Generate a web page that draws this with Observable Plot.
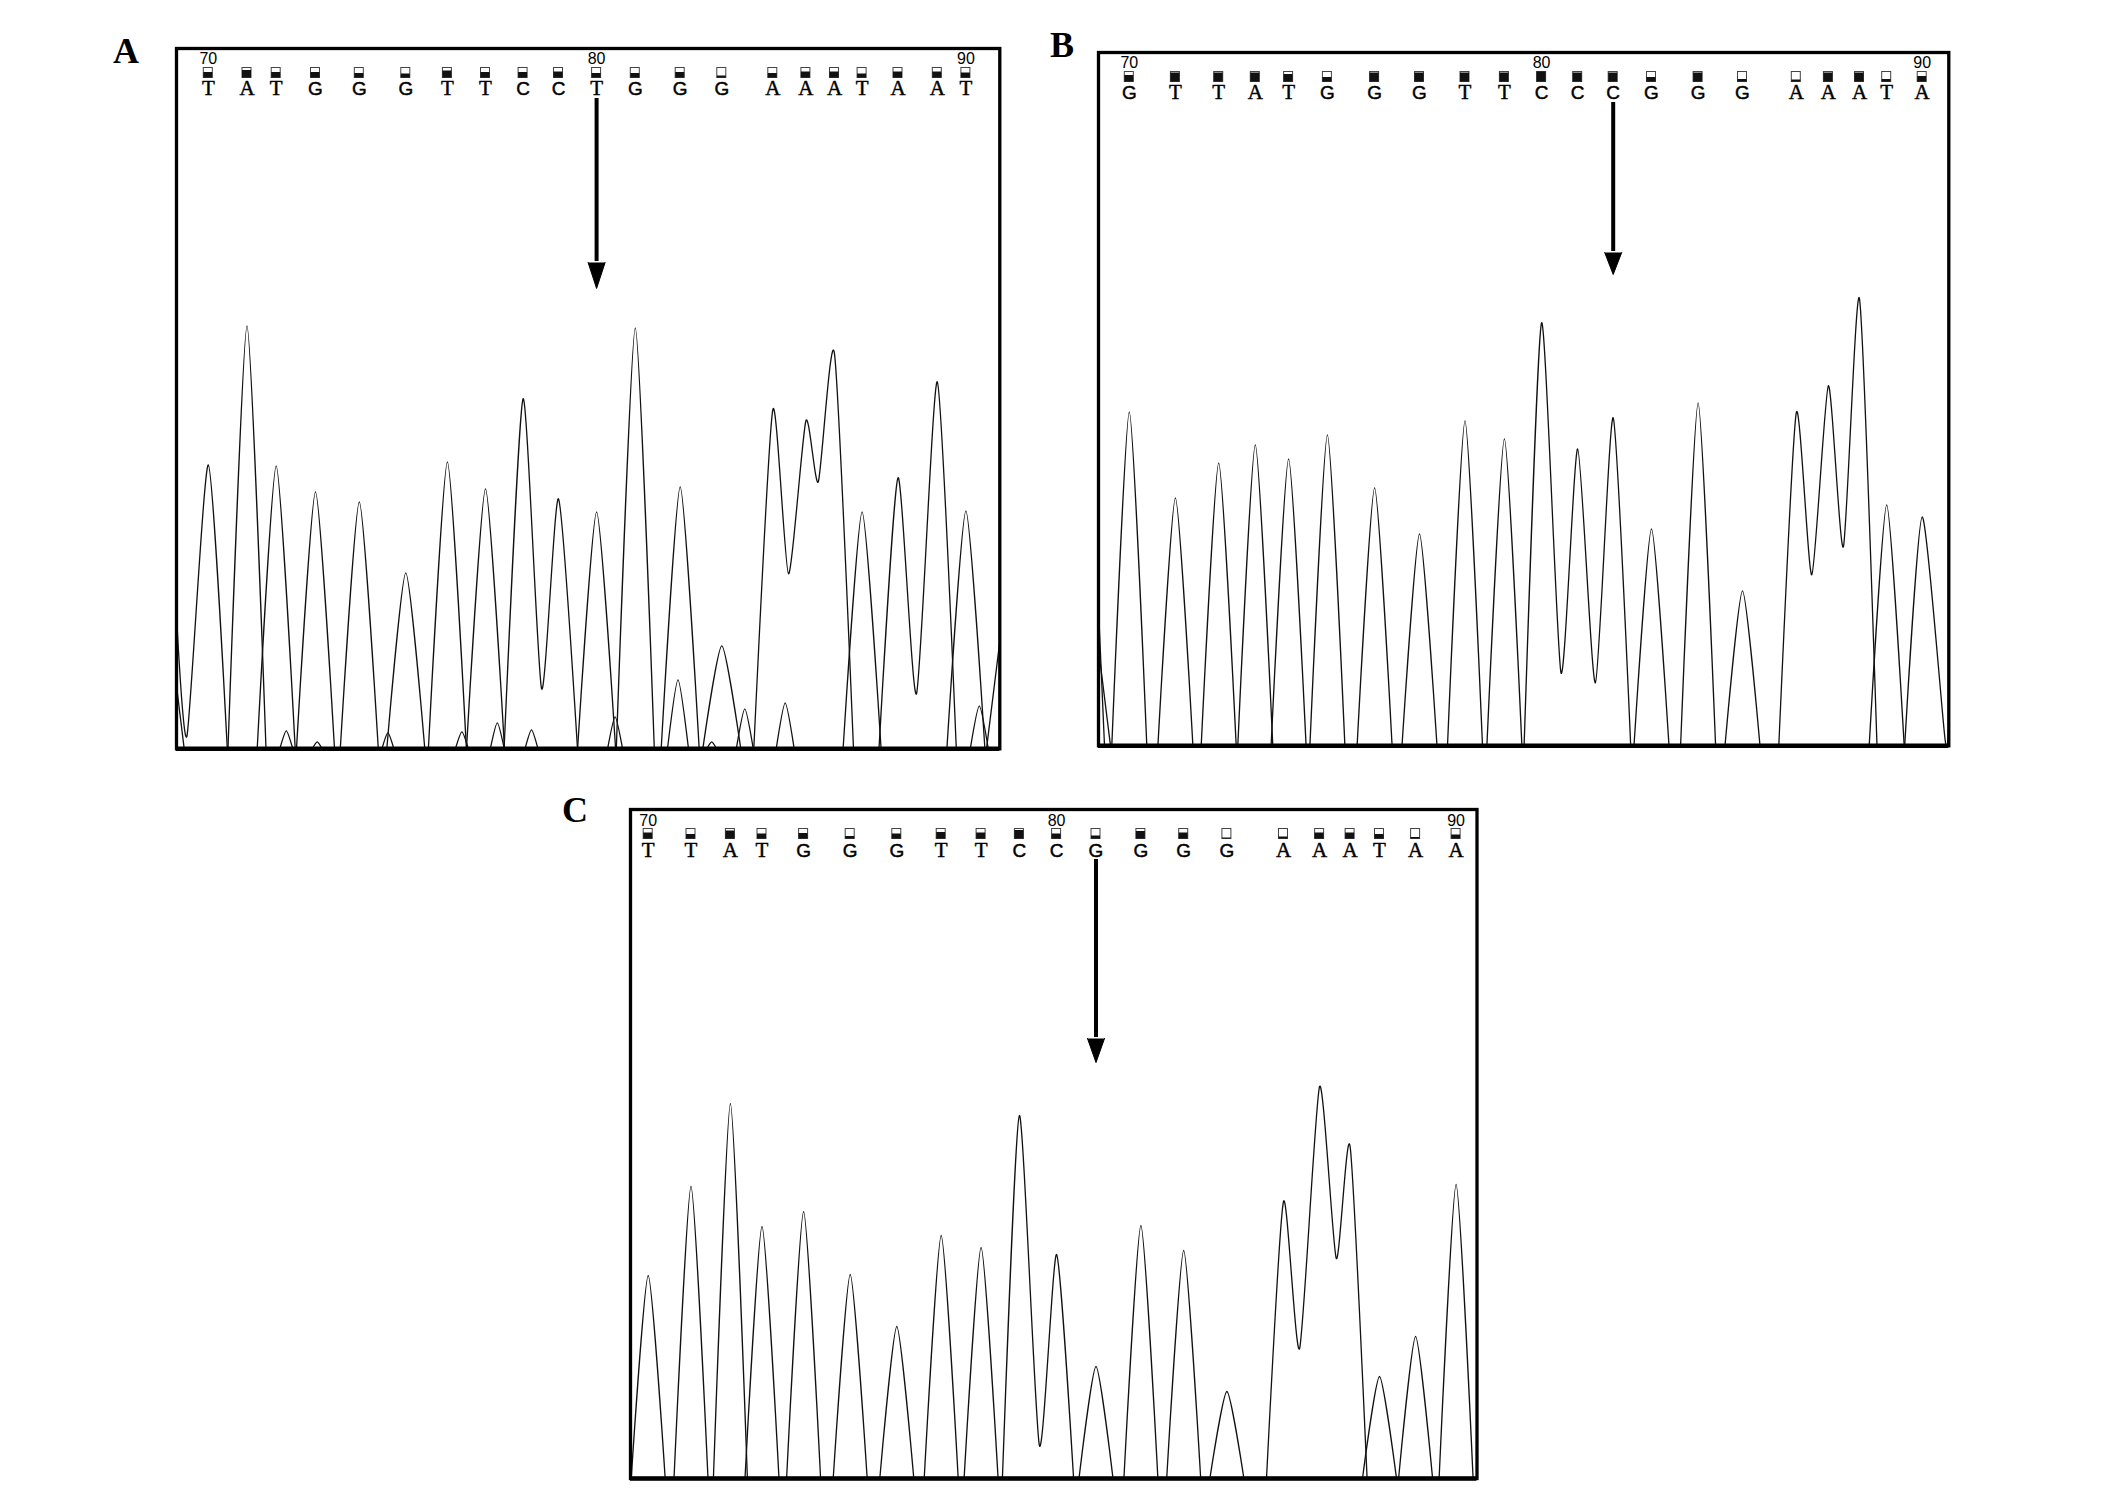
<!DOCTYPE html>
<html><head><meta charset="utf-8">
<script src="https://cdn.jsdelivr.net/npm/d3@7"></script>
<script src="https://cdn.jsdelivr.net/npm/@observablehq/plot@0.6"></script>
<style>
html,body{margin:0;padding:0;background:#fff;}
#fig{position:relative;width:2126px;height:1496px;background:#fff;overflow:hidden;}
.panel{position:absolute;}
#labels{position:absolute;left:0;top:0;}
</style></head><body><div id="fig"><svg id="labels" width="2126" height="1496"></svg></div>
<script>
// ---------- Panel A ----------
const seqA = "TATGGGTTCCTGGGAAATAAT".split("");
const qualA = [0.55,0.75,0.55,0.55,0.45,0.4,0.7,0.55,0.55,0.6,0.45,0.45,0.55,0.2,0.45,0.6,0.6,0.4,0.6,0.6,0.5];
const peaksA = [[31.8,284],[70.5,423],[99.7,283],[139,257],[182.8,247],[229.3,176],[270.9,287],[309,260],[346.6,350],[382,250],[420.1,237],[458.8,421],[503.7,262],[545.3,103],[596.3,339],[629.4,328],[658,395],[685.6,237],[721.5,271],[760.8,367],[789.4,238]];
const valleysA = [[8,365.1,60],[14,612,175],[15,641.8,267],[18,740,55]];
const minorA = [[109.8,18,6.5],[140.7,7,5],[211.4,16,6],[285.4,17,6.5],[320.8,26,7],[355,19,6.5],[438.6,32,7.5],[501.5,69,10.5],[535.2,7,5],[568.3,40,8.5],[608.7,46,9],[802.8,43,9]];
const leadA = [[0,133],[10.5,13]];
const tailA = null;
const edgesA = [[[0,63],[7.7,0]],[[810,0],[823,105]]];

// ---------- Panel B ----------
const seqB = "GTTATGGGTTCCCGGGAAATA".split("");
const qualB = [0.65,0.9,0.9,0.9,0.75,0.45,0.9,0.9,0.9,0.9,1,0.9,0.9,0.45,0.9,0.25,0.2,0.9,0.9,0.25,0.55];
const peaksB = [[30.8,334],[76.9,248],[120.2,283],[156.8,301],[190.1,287],[228.9,311],[276.1,258],[321,212],[366.5,325],[405.9,307],[443.1,423],[479.2,297],[514.7,328],[553,217],[599.6,343],[644,155],[697.8,333],[729.9,360],[761,447],[788.2,241],[823.7,229]];
const valleysB = [[10,462.5,73],[11,496.9,63],[16,713.3,171],[17,744.9,199]];
const minorB = [];
const leadB = null;
const tailB = [[846.5,7],[850,17]];
const edgesB = [[[0,137],[6,0]],[[0,97],[12,0]]];

// ---------- Panel C ----------
const seqC = "TTATGGGTTCCGGGGAAATAA".split("");
const qualC = [0.6,0.45,0.8,0.5,0.55,0.25,0.5,0.65,0.6,0.85,0.5,0.3,0.75,0.6,0.1,0.2,0.6,0.6,0.45,0.15,0.4];
const peaksC = [[17.7,203],[60.5,292],[99.9,375],[131.5,252],[173.1,267],[219.7,204],[266.3,152],[310.7,243],[350.6,231],[388.9,363],[426.1,224],[465.5,112],[510.4,253],[553.2,228],[596.4,87],[653,277],[689.1,392],[719.6,332],[749,102],[785.1,142],[825.6,294]];
const valleysC = [[9,408.9,33],[15,669.1,130],[16,705.8,220]];
const minorC = [];
const leadC = null;
const tailC = null;
const edgesC = [];

const positionLabels = [70, 80, 90];   // printed above bases 0, 10, 20
const positionIndex = [0, 10, 20];

function buildTraces(peaks, valleys, minor, edges, lead, tail, hw) {
  const pts = [];
  let g = 0, open = false;
  const vmap = new Map(valleys.map(v => [v[0], v]));
  peaks.forEach(([x, h], i) => {
    if (!open) {
      g++;
      if (i === 0 && lead) lead.forEach(([px, py]) => pts.push({x: px, y: py, g}));
      else pts.push({x: Math.max(0, x - hw), y: 0, g});
      open = true;
    }
    pts.push({x, y: h, g});
    const v = vmap.get(i);
    if (v) pts.push({x: v[1], y: v[2], g});
    else {
      if (i === peaks.length - 1 && tail) tail.forEach(([px, py]) => pts.push({x: px, y: py, g}));
      else pts.push({x: x + hw, y: 0, g});
      open = false;
    }
  });
  minor.forEach(([x, h, w]) => { g++; pts.push({x: x - w, y: 0, g}, {x, y: h, g}, {x: x + w, y: 0, g}); });
  edges.forEach(seg => { g++; seg.forEach(([x, y]) => pts.push({x, y, g})); });
  return pts;
}

function panel(cfg) {
  const {left, top, W, H, seq, qual, peaks, valleys, minor, edges, lead, tail, hw, arrowIndex, arrowHead, arrowTip, numFont} = cfg;
  const m = 5;
  const bases = seq.map((b, i) => ({b, i, x: peaks[i][0], q: qual[i]}));
  const nums = positionIndex.map((k, j) => ({x: peaks[k][0], t: String(positionLabels[j])}));
  const traces = buildTraces(peaks, valleys, minor, edges, lead, tail, hw);
  const ax = peaks[arrowIndex][0];
  const head = [{x: ax - 8.5, y: H - arrowHead}, {x: ax, y: H - arrowTip}, {x: ax + 8.5, y: H - arrowHead}];
  const bw = 4.5, boxTop = 19.5, boxBot = 29.5;
  const svg = Plot.plot({
    width: W + 2 * m, height: H + 2 * m, margin: m,
    x: {domain: [0, W], axis: null},
    y: {domain: [0, H], axis: null},
    style: {background: "transparent", overflow: "visible"},
    marks: [
      Plot.line(traces, {x: "x", y: "y", z: "g", stroke: "#111", strokeWidth: 1.3, curve: "cardinal", tension: 0.35}),
      Plot.rect(bases, {x1: d => d.x - bw, x2: d => d.x + bw, y1: () => H - boxBot, y2: () => H - boxTop, fill: "white", stroke: "#444", strokeWidth: 1}),
      Plot.rect(bases, {x1: d => d.x - bw, x2: d => d.x + bw, y1: () => H - boxBot, y2: d => H - boxBot + d.q * (boxBot - boxTop), fill: "#111"}),
      Plot.text(nums, {x: "x", y: () => H - 16, text: "t", fontFamily: numFont, fontSize: 16, lineAnchor: "bottom", fill: "black"}),
      Plot.text(bases, {filter: d => d.b === "T" || d.b === "A", x: "x", y: () => H - 47, text: "b", fontFamily: "Liberation Serif", fontSize: 21, lineAnchor: "bottom", fill: "black", stroke: "black", strokeWidth: 0.45, ariaLabel: "base-letters"}),
      Plot.text(bases, {filter: d => d.b === "G" || d.b === "C", x: "x", y: () => H - 47, text: "b", fontFamily: "Liberation Sans", fontSize: 19, lineAnchor: "bottom", fill: "black", stroke: "black", strokeWidth: 0.45, ariaLabel: "base-letters"}),
      Plot.ruleX([ax], {y1: H - 50, y2: H - arrowHead + 1, stroke: "black", strokeWidth: 4}),
      Plot.line(head, {x: "x", y: "y", fill: "black", stroke: "black", strokeWidth: 1}),
      Plot.ruleY([0], {stroke: "black", strokeWidth: 4.5}),
      Plot.frame({stroke: "black", strokeWidth: 3.3})
    ]
  });
  // narrow the base-call glyphs like the sequencer's condensed font
  d3.select(svg).selectAll('g[aria-label="base-letters"] text').each(function () {
    const t = this.getAttribute("transform") || "";
    this.setAttribute("transform", t + " scale(0.72,1)");
  });
  svg.classList.add("panel");
  svg.style.left = (left - m) + "px";
  svg.style.top = (top - m) + "px";
  document.getElementById("fig").appendChild(svg);
}

panel({left: 175.7, top: 47.7, W: 823.3, H: 700.3, seq: seqA, qual: qualA, peaks: peaksA, valleys: valleysA, minor: minorA, edges: edgesA, lead: leadA, tail: tailA, hw: 19, arrowIndex: 10, arrowHead: 214, arrowTip: 240, numFont: "Liberation Sans"});
panel({left: 1097.7, top: 51.7, W: 850.3, H: 693.3, seq: seqB, qual: qualB, peaks: peaksB, valleys: valleysB, minor: minorB, edges: edgesB, lead: leadB, tail: tailB, hw: 17.5, arrowIndex: 12, arrowHead: 200, arrowTip: 222, numFont: "Liberation Sans"});
panel({left: 629.5, top: 809, W: 846.5, H: 669, seq: seqC, qual: qualC, peaks: peaksC, valleys: valleysC, minor: minorC, edges: edgesC, lead: leadC, tail: tailC, hw: 17, arrowIndex: 11, arrowHead: 229, arrowTip: 253, numFont: "Liberation Sans"});

// panel letters
const panelLabels = ["A", "B", "C"];
const labelPos = [[126, 62.7], [1062, 57.3], [575, 822]];
const lab = d3.select("#labels");
panelLabels.forEach((t, i) => {
  lab.append("text").attr("x", labelPos[i][0]).attr("y", labelPos[i][1])
    .attr("text-anchor", "middle").attr("font-family", "Liberation Serif, serif")
    .attr("font-weight", "bold").attr("font-size", 36).text(t);
});
</script></body></html>
